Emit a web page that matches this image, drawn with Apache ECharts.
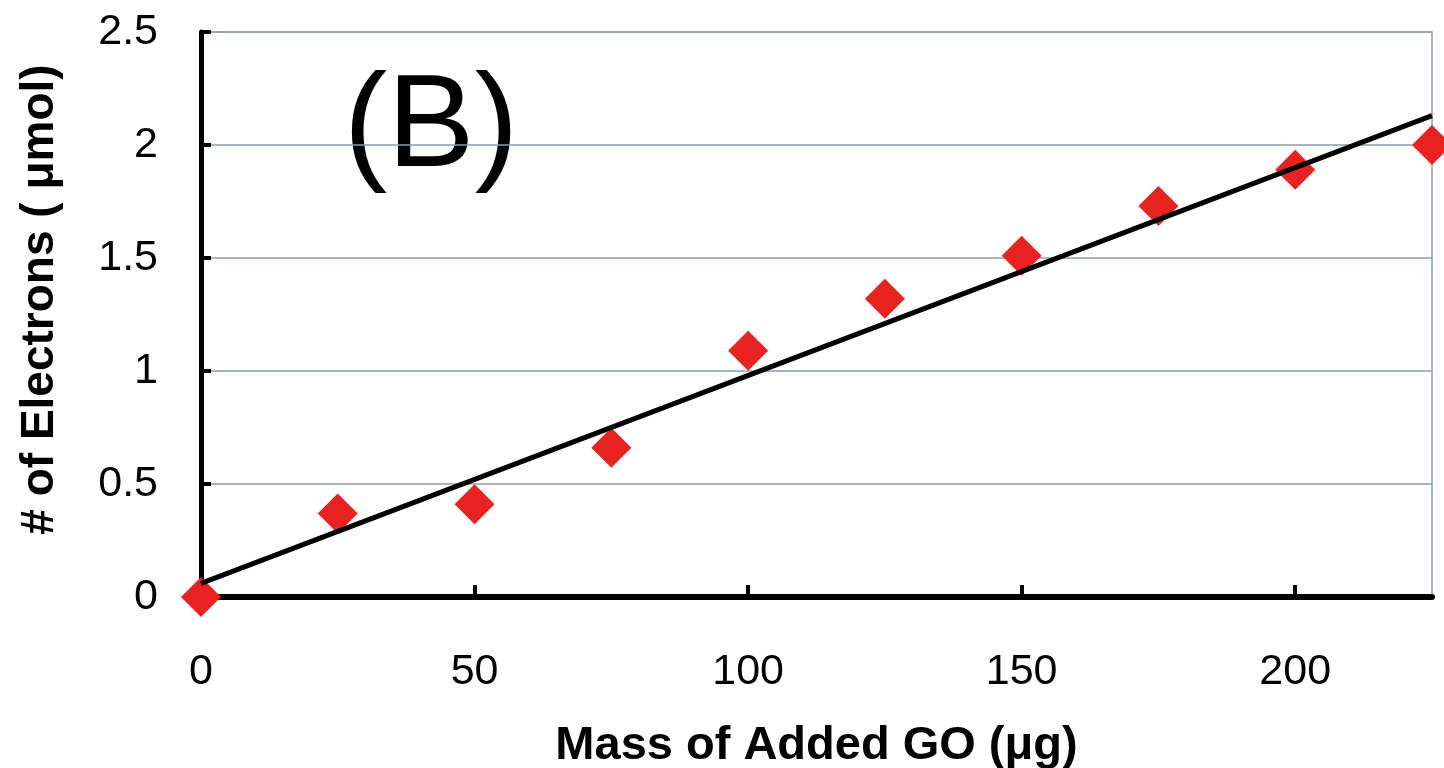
<!DOCTYPE html>
<html>
<head>
<meta charset="utf-8">
<script src="https://cdn.jsdelivr.net/npm/echarts@6/dist/echarts.min.js"></script>
<style>
  html, body { margin: 0; padding: 0; background: #fff; }
  #chart { width: 1444px; height: 768px; }
</style>
</head>
<body>
<div id="chart"></div>
<script>
// GO mass (ug) vs electrons (umol)
const massGO = [0, 25, 50, 75, 100, 125, 150, 175, 200, 225];
const electrons = [0, 0.37, 0.41, 0.66, 1.09, 1.32, 1.51, 1.73, 1.89, 2.0];

// linear trendline endpoints
const trendX = [0, 225];
const trendY = [0.06, 2.13];

const xTicks = [0, 50, 100, 150, 200];

const chart = echarts.init(document.getElementById('chart'));

const font = 'Liberation Sans, Arial, sans-serif';

chart.setOption({
  animation: false,
  backgroundColor: '#fff',
  grid: {
    left: 201,
    right: 12,
    top: 32,
    bottom: 171,
    outerBoundsMode: 'none',
    show: true,
    borderColor: '#8e9ea8',
    borderWidth: 1.5
  },
  graphic: [{
    type: 'text',
    x: 431,
    y: 130,
    style: {
      text: '(B)',
      font: '131px ' + font,
      fill: '#000',
      align: 'center',
      verticalAlign: 'middle'
    }
  }],
  xAxis: {
    type: 'value',
    min: 0,
    max: 225,
    interval: 50,
    name: 'Mass of Added GO (\u03bcg)',
    nameLocation: 'middle',
    nameGap: 126,
    nameTextStyle: { fontFamily: font, fontSize: 47, fontWeight: 'bold', color: '#000' },
    axisLine: { show: true, onZero: false, lineStyle: { color: '#000', width: 6 } },
    axisTick: {
      show: true, inside: true, length: 12,
      customValues: xTicks,
      lineStyle: { color: '#000', width: 4 }
    },
    axisLabel: {
      margin: 54,
      fontFamily: font,
      fontSize: 43,
      color: '#000',
      customValues: xTicks
    },
    splitLine: { show: false }
  },
  yAxis: {
    type: 'value',
    min: 0,
    max: 2.5,
    interval: 0.5,
    name: '# of Electrons ( \u03bcmol)',
    nameLocation: 'middle',
    nameGap: 138,
    nameTextStyle: {
      fontFamily: font, fontSize: 46, fontWeight: 'bold', color: '#000',
      padding: [0, 0, 0, 30]
    },
    axisLine: { show: true, lineStyle: { color: '#000', width: 5 } },
    axisTick: { show: true, inside: true, length: 10, lineStyle: { color: '#000', width: 4 } },
    axisLabel: {
      margin: 43,
      fontFamily: font,
      fontSize: 43,
      color: '#000',
      formatter: v => String(v)
    },
    splitLine: { show: true, lineStyle: { color: '#8e9ea8', width: 1.5 } }
  },
  series: [
    {
      type: 'line',
      data: trendX.map((x, i) => [x, trendY[i]]),
      symbol: 'none',
      lineStyle: { color: '#000', width: 5 },
      z: 3
    },
    {
      type: 'scatter',
      data: massGO.map((x, i) => [x, electrons[i]]),
      symbol: 'diamond',
      symbolSize: 40,
      itemStyle: { color: '#e8231f', opacity: 1 },
      z: 2
    }
  ]
});
</script>
</body>
</html>
